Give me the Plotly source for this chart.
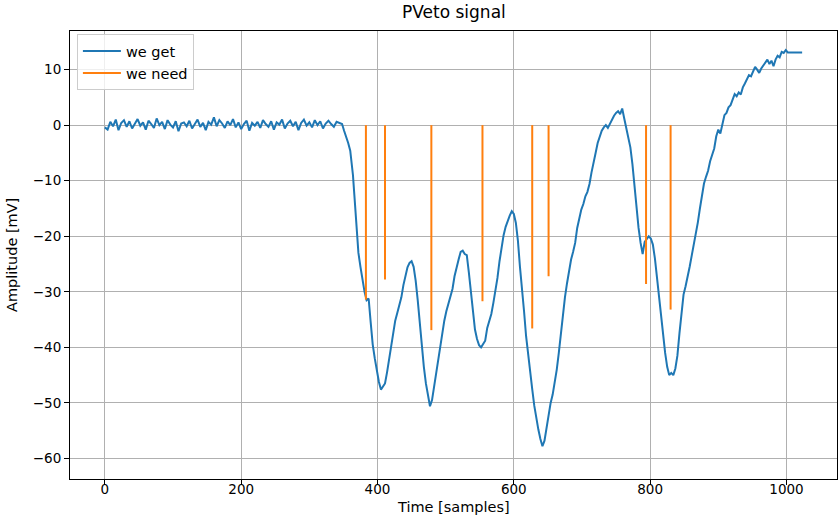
import plotly.graph_objects as go

# ---- data: "we get" (flat baseline part, every 4 samples) ----
flat_t = list(range(0, 345, 4))
flat_v = [
    -0.4, -0.8, 0.6, -0.2, 1.0, -0.9, 0.4, 0.9, -0.3, 0.7,
    -0.6, 0.3, 1.1, -0.1, 0.5, -0.8, 0.8, 0.2, -0.5, 1.2,
    0.0, 0.6, -0.7, 0.9, 0.1, -0.4, 0.7, -1.1, 0.3, 0.5,
    -0.2, 0.8, -0.6, 0.2, 1.0, -0.3, 0.4, -0.9, 0.6, 0.1,
    1.4, -0.2, 0.9, 0.3, -0.5, 0.7, 0.0, 1.1, -0.4, 0.5,
    -0.7, 0.2, 0.8, -1.0, 0.4, -0.1, 0.6, -0.5, 0.9, 0.2,
    -0.3, 0.7, -0.8, 0.5, 0.1, 1.0, -0.6, 0.3, 0.8, -0.2,
    0.6, -0.9, 0.4, 1.0, -0.1, 0.5, -0.4, 0.9, 0.0, 0.7,
    -0.6, 0.3, 0.8, 0.2, -0.3, 0.6, 0.4,
]

# ---- data: "we get" (pulse part) ----
pulse_t = [
    348, 351, 354, 357, 360, 362, 364, 366, 368, 370, 372, 375, 378, 381, 384, 387,
    390, 393, 396, 399, 402, 405, 408, 411, 414, 417, 420, 423, 426, 429, 432, 435,
    438, 441, 444, 447, 450, 453, 456, 459, 462, 465, 468, 471, 474, 477, 480, 483,
    486, 489, 492, 495, 498, 501, 504, 507, 510, 513, 516, 519, 522, 525, 528, 531,
    534, 537, 540, 543, 546, 549, 552, 555, 558, 561, 564, 567, 570, 573, 576, 579,
    582, 585, 588, 591, 594, 597, 600, 603, 606, 609, 612, 615, 618, 621, 624, 627,
    630, 633, 636, 639, 642, 645, 648, 651, 654, 657, 660, 663, 666, 669, 672, 675,
    678, 681, 684, 687, 690, 693, 696, 699, 702, 705, 708, 711, 714, 717, 720, 723,
    726, 729, 732, 735, 738, 741, 744, 747, 750, 753, 756, 759, 762, 765, 768, 771,
    774, 777, 780, 783, 786, 789, 792, 795, 798, 801, 804, 807, 810, 813, 816, 819,
    822, 825, 828, 831, 834, 837, 840, 843, 846, 849, 852, 855, 858, 861, 864, 867,
    870, 873, 876, 879, 882, 885, 888, 891, 894, 897, 900, 903, 906, 909, 912, 915,
    918, 921, 924, 927, 930, 933, 936, 939, 942, 945, 948, 951, 954, 957, 960, 963,
    966, 969, 972, 975, 978, 981, 984, 987, 990, 993, 996, 999, 1002, 1023,
]
pulse_v = [
    0.2, -1.0, -2.0, -3.2, -4.6, -6.5, -9.0, -12.5, -16.5, -20.0, -23.0, -25.5, -27.8, -30.0, -31.5, -31.2,
    -35.5, -39.5, -42.0, -44.5, -46.2, -47.6, -47.0, -46.5, -44.5, -42.0, -39.5, -37.0, -35.2, -33.8, -32.5, -31.0,
    -28.8, -27.0, -25.6, -24.8, -24.5, -25.5, -28.0, -31.5, -36.0, -40.0, -43.5, -46.5, -49.0, -50.6, -49.5, -47.0,
    -44.5, -41.8, -39.5, -37.5, -35.2, -33.5, -32.0, -30.5, -29.5, -27.2, -25.5, -24.2, -22.8, -22.6, -23.2, -23.4,
    -26.5, -30.0, -34.0, -36.8, -38.5, -39.6, -40.0, -39.5, -38.8, -36.5, -35.2, -34.0, -32.0, -30.0, -27.5, -24.5,
    -21.8, -19.8, -18.3, -17.2, -16.3, -15.5, -16.0, -17.6, -20.8, -25.5, -29.0, -33.5, -38.0, -41.5, -44.8, -47.5,
    -50.5, -53.0, -54.8, -56.5, -57.8, -56.8, -54.5, -52.0, -50.0, -48.5, -46.5, -44.0, -41.0, -37.5, -34.5, -31.0,
    -28.5, -26.3, -24.2, -22.8, -21.2, -18.5, -16.5, -15.2, -14.2, -12.8, -12.0, -10.6, -8.5, -7.0, -5.0, -3.2,
    -2.0, -1.0, -0.4, 0.0, -0.5, 0.3, 0.8, 1.7, 2.2, 2.5, 2.0, 3.0, 1.2, -0.6, -2.2, -4.0,
    -7.0, -11.0, -15.0, -18.5, -21.2, -23.2, -21.0, -20.5, -20.0, -20.4, -21.5, -24.0, -27.5, -30.8, -34.5, -38.0,
    -41.0, -43.5, -45.0, -44.6, -45.0, -43.8, -41.5, -37.5, -34.0, -30.5, -29.0, -27.5, -25.5, -23.5, -21.5, -20.0,
    -17.5, -15.0, -12.5, -10.5, -9.3, -8.2, -6.5, -5.3, -4.2, -2.0, -0.8, -1.5, 0.5, 1.8, 2.2, 3.2,
    3.6, 4.6, 5.6, 5.2, 5.9, 5.5, 6.8, 7.5, 8.2, 9.0, 8.8, 9.8, 10.5, 10.0, 9.4, 10.2,
    10.8, 11.4, 11.8, 11.0, 11.6, 10.6, 11.8, 12.5, 12.2, 13.2, 13.0, 13.5, 13.1, 13.1,
]

# ---- data: "we need" (spikes) ----
need_t = [383, 411, 479, 554, 627, 651, 794, 830]
need_v = [-31.4, -27.8, -36.9, -31.7, -36.6, -27.2, -28.6, -33.2]

x_ticks = [0, 200, 400, 600, 800, 1000]
y_ticks = [-60, -50, -40, -30, -20, -10, 0, 10]

get_t = flat_t + pulse_t
get_v = flat_v + pulse_v

need_x, need_y = [], []
for t, v in zip(need_t, need_v):
    need_x += [t, t, None]
    need_y += [0, v, None]

BLUE = "#1f77b4"
ORANGE = "#ff7f0e"
FONT = "DejaVu Sans"

fig = go.Figure()
fig.add_trace(go.Scatter(x=get_t, y=get_v, mode="lines", name="we get",
                         line=dict(color=BLUE, width=2)))
fig.add_trace(go.Scatter(x=need_x, y=need_y, mode="lines", name="we need",
                         line=dict(color=ORANGE, width=2), connectgaps=False))

axis_common = dict(
    showgrid=True, gridcolor="#b0b0b0", gridwidth=1,
    showline=True, linecolor="black", linewidth=1, mirror=True,
    ticks="outside", ticklen=5, tickcolor="black", tickwidth=1,
    zeroline=False, tickfont=dict(family=FONT, size=13.5, color="black"),
)

fig.update_xaxes(range=[-51.15, 1074.15], tickvals=x_ticks, ticklabelstandoff=-7, **axis_common)
fig.update_yaxes(range=[-63.7, 16.95], tickvals=y_ticks, **axis_common)

fig.update_layout(
    width=838, height=516,
    margin=dict(l=70, r=1, t=31, b=37),
    paper_bgcolor="white", plot_bgcolor="white",
    font=dict(family=FONT, size=13.5, color="black"),
    showlegend=True,
    legend=dict(x=0.009, y=0.993, xanchor="left", yanchor="top",
                bgcolor="rgba(255,255,255,0.8)", bordercolor="#cccccc", borderwidth=1,
                itemwidth=38, tracegroupgap=0,
                font=dict(family=FONT, size=14.5)),
    annotations=[
        dict(text="PVeto signal", x=0.5, y=1, xref="paper", yref="paper",
             xanchor="center", yanchor="bottom", yshift=7, showarrow=False,
             font=dict(family=FONT, size=17, color="black")),
        dict(text="Time [samples]", x=0.5, y=0, xref="paper", yref="paper",
             xanchor="center", yanchor="top", yshift=-18, showarrow=False,
             font=dict(family=FONT, size=14.5, color="black")),
        dict(text="Amplitude [mV]", x=0, y=0.5, xref="paper", yref="paper",
             xanchor="right", yanchor="middle", xshift=-48, textangle=-90, showarrow=False,
             font=dict(family=FONT, size=14.5, color="black")),
    ],
)

fig.write_html("out.html")
